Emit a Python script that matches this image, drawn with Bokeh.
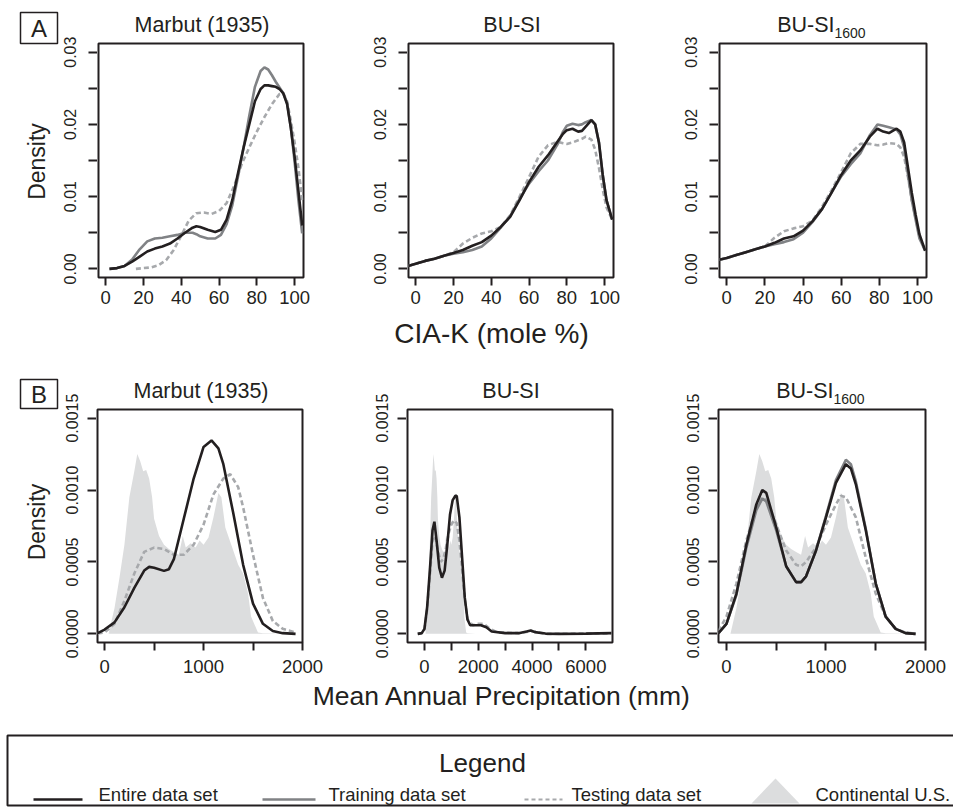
import math
from bokeh.plotting import figure
from bokeh.models import Range1d, FixedTicker
from bokeh.layouts import row, column
from bokeh.core.properties import value
from bokeh.embed import file_html
from bokeh.resources import INLINE

INK = "#231f20"
GRAY = "#808285"
LIGHT = "#a7a9ac"
FILL = "#dcddde"
FONT = "Liberation Sans"

# ---------------- texts ----------------
panel_titles = ["Marbut (1935)", "BU-SI", "BU-SI"]
title_subscripts = ["", "", "1600"]
row_tags = ["A", "B"]
y_title = "Density"
x_titles = ["CIA-K (mole %)", "Mean Annual Precipitation (mm)"]
legend_title = "Legend"
series_names = ["Entire data set", "Training data set", "Testing data set", "Continental U.S."]

# ---------------- data: panel A (CIA-K, mole %) ----------------
a1_x = [2, 6, 10, 14, 18, 22, 26, 30, 34, 38, 42, 46, 48, 50, 54, 58, 61, 64, 67, 70, 73, 76, 79, 82, 84, 86, 88, 90, 92, 94, 96, 98, 100, 102, 104]
a1_entire = [0, 0.0001, 0.0004, 0.001, 0.0017, 0.0024, 0.0028, 0.0031, 0.0035, 0.0042, 0.005, 0.0057, 0.0059, 0.0058, 0.0054, 0.0051, 0.0054, 0.0068, 0.0095, 0.0132, 0.0168, 0.02, 0.0232, 0.0249, 0.0254, 0.0254, 0.0253, 0.0252, 0.0249, 0.0243, 0.0228, 0.0195, 0.0155, 0.0108, 0.006]
a1_train = [0, 0.0001, 0.0004, 0.0013, 0.0027, 0.0038, 0.0042, 0.0043, 0.0045, 0.0047, 0.005, 0.005, 0.0048, 0.0045, 0.0042, 0.0042, 0.0047, 0.0062, 0.0088, 0.0127, 0.0168, 0.0212, 0.0252, 0.0274, 0.0279, 0.0276, 0.0268, 0.0259, 0.0251, 0.0243, 0.023, 0.0196, 0.0148, 0.0095, 0.0049]
a1_test_x = [16, 20, 24, 28, 32, 36, 40, 44, 48, 52, 56, 60, 64, 68, 72, 76, 80, 84, 88, 92, 94, 96, 98, 100, 102, 104]
a1_test = [0, 0.0001, 0.0002, 0.0005, 0.0012, 0.0026, 0.0046, 0.0067, 0.0077, 0.0078, 0.0076, 0.008, 0.0091, 0.0115, 0.0145, 0.0168, 0.019, 0.021, 0.0228, 0.0242, 0.0243, 0.0232, 0.0205, 0.0175, 0.014, 0.0095]

a2_x = [-4, 0, 5, 10, 15, 20, 25, 30, 35, 40, 45, 50, 55, 60, 65, 70, 75, 78, 80, 83, 86, 88, 90, 93, 95, 97, 99, 101, 104]
a2_entire = [0.0004, 0.0007, 0.0011, 0.0014, 0.0018, 0.0022, 0.0026, 0.0032, 0.0037, 0.0046, 0.0058, 0.0072, 0.0095, 0.012, 0.0141, 0.0157, 0.0176, 0.0187, 0.0192, 0.0194, 0.019, 0.0191, 0.0197, 0.0206, 0.02, 0.0175, 0.013, 0.0095, 0.0068]
a2_train = [0.0004, 0.0007, 0.0011, 0.0014, 0.0018, 0.0021, 0.0023, 0.0026, 0.0031, 0.0042, 0.0057, 0.0073, 0.0097, 0.0118, 0.0135, 0.015, 0.0172, 0.019, 0.0198, 0.0201, 0.0199, 0.02, 0.0203, 0.0206, 0.02, 0.0175, 0.013, 0.0095, 0.0068]
a2_test = [0.0004, 0.0007, 0.0011, 0.0014, 0.0018, 0.0023, 0.0035, 0.0043, 0.0049, 0.0052, 0.0058, 0.0074, 0.01, 0.0127, 0.0155, 0.0171, 0.0176, 0.0174, 0.0173, 0.0175, 0.0178, 0.018, 0.0183, 0.0179, 0.0165, 0.014, 0.011, 0.0085, 0.0068]

a3_x = [-4, 0, 5, 10, 15, 20, 25, 30, 35, 40, 45, 50, 55, 60, 65, 70, 75, 79, 82, 85, 89, 91, 93, 95, 97, 99, 101, 104]
a3_entire = [0.00125, 0.0015, 0.0019, 0.0023, 0.0027, 0.0031, 0.0036, 0.0042, 0.0045, 0.0053, 0.0066, 0.0083, 0.0106, 0.013, 0.015, 0.0164, 0.0183, 0.0194, 0.019, 0.0188, 0.0194, 0.019, 0.0175, 0.014, 0.0105, 0.0075, 0.0048, 0.0025]
a3_train = [0.00125, 0.0015, 0.0019, 0.0023, 0.0027, 0.0031, 0.0034, 0.0037, 0.0041, 0.005, 0.0065, 0.0083, 0.0106, 0.0128, 0.0145, 0.016, 0.0185, 0.02, 0.0198, 0.0196, 0.0193, 0.0186, 0.0168, 0.013, 0.0095, 0.0068, 0.0042, 0.0025]
a3_test = [0.00125, 0.0015, 0.0019, 0.0023, 0.0027, 0.0031, 0.0043, 0.0052, 0.0056, 0.0059, 0.0067, 0.0086, 0.0109, 0.0134, 0.016, 0.0173, 0.0173, 0.0171, 0.0172, 0.0174, 0.0173, 0.0168, 0.0155, 0.0127, 0.0095, 0.007, 0.0045, 0.0025]

# ---------------- data: panel B (mean annual precipitation, mm) ----------------
b1_x = [-70, 0, 100, 200, 300, 400, 450, 500, 600, 650, 700, 800, 900, 1000, 1080, 1150, 1200, 1300, 1400, 1500, 1600, 1700, 1800, 1930]
b1_entire = [0.000005, 0.00003, 0.00008, 0.000185, 0.00032, 0.00044, 0.000466, 0.00046, 0.000438, 0.00045, 0.00052, 0.0008, 0.00108, 0.0013, 0.001345, 0.00129, 0.00118, 0.00084, 0.00048, 0.00021, 0.00007, 0.00002, 0.000005, 0]
b1_test_x = [-70, 0, 100, 200, 300, 400, 500, 600, 700, 800, 900, 1000, 1100, 1200, 1270, 1350, 1400, 1500, 1600, 1700, 1800, 1930]
b1_test = [0.000003, 0.00001, 0.00007, 0.00023, 0.00042, 0.00057, 0.0006, 0.00059, 0.00055, 0.00055, 0.00062, 0.00076, 0.00097, 0.00108, 0.00111, 0.00102, 0.00088, 0.00055, 0.00025, 0.00009, 0.000035, 0.00001]

b2_x = [-250, -100, 0, 100, 200, 300, 370, 450, 550, 650, 750, 850, 950, 1050, 1150, 1200, 1300, 1400, 1500, 1600, 1700, 1900, 2100, 2300, 2500, 3000, 3500, 3800, 3950, 4100, 4500, 5000, 6000, 6950]
b2_entire = [0, 0.000005, 0.000035, 0.000185, 0.00044, 0.00072, 0.00078, 0.00065, 0.00046, 0.00039, 0.00044, 0.00062, 0.00083, 0.00093, 0.00096, 0.00096, 0.00081, 0.00053, 0.00025, 0.0001, 0.00006, 0.00006, 0.00006, 0.000046, 0.000016, 0.000005, 0.000005, 0.000016, 0.000023, 0.000012, 0.000002, 0, 0.000002, 0.000005]
b2_test_x = [-250, -100, 0, 100, 200, 300, 400, 500, 600, 700, 800, 900, 1000, 1100, 1200, 1300, 1400, 1500, 1600, 1800, 2000, 2200, 2400, 2700, 3500, 4000, 4500, 6950]
b2_test = [0, 0.000005, 0.00003, 0.00017, 0.0004, 0.00065, 0.00068, 0.00058, 0.0005, 0.00052, 0.0006, 0.0007, 0.00076, 0.00079, 0.00077, 0.00065, 0.00045, 0.00024, 0.0001, 0.00006, 0.00007, 0.00007, 0.00004, 0.00001, 0.000005, 0.00002, 0, 0.000003]

b3_x = [-80, 0, 100, 200, 300, 360, 400, 500, 600, 700, 750, 800, 900, 1000, 1100, 1200, 1250, 1300, 1400, 1500, 1600, 1700, 1800, 1900]
b3_entire = [0.000005, 0.00007, 0.00028, 0.00062, 0.0009, 0.001, 0.00098, 0.00074, 0.00047, 0.00036, 0.00036, 0.0004, 0.00058, 0.00081, 0.00105, 0.00118, 0.00115, 0.00104, 0.00072, 0.00035, 0.00012, 0.000035, 0.000005, 0]
b3_train = [0.000005, 0.00007, 0.00027, 0.0006, 0.00086, 0.00094, 0.00092, 0.00072, 0.00047, 0.00036, 0.00036, 0.0004, 0.00058, 0.00082, 0.00107, 0.00121, 0.00118, 0.00106, 0.00073, 0.00035, 0.00012, 0.000035, 0.000005, 0]
b3_test_x = [-80, 0, 100, 200, 300, 360, 400, 500, 600, 700, 750, 800, 900, 1000, 1100, 1150, 1200, 1300, 1400, 1500, 1600, 1700, 1800, 1900]
b3_test = [0.00002, 0.00012, 0.00035, 0.00065, 0.00088, 0.00095, 0.00093, 0.00076, 0.00058, 0.00048, 0.00047, 0.0005, 0.0006, 0.00076, 0.0009, 0.00096, 0.00095, 0.00081, 0.00053, 0.00028, 0.00012, 0.000035, 0.00001, 0]

conus_x = [40, 100, 150, 200, 250, 300, 330, 360, 390, 420, 450, 480, 500, 550, 600, 650, 700, 750, 790, 820, 870, 920, 960, 1000, 1050, 1100, 1150, 1180, 1220, 1280, 1350, 1400, 1450, 1480, 1550, 1600, 1900]
conus_y = [0, 0.00018, 0.00039, 0.00062, 0.00095, 0.00113, 0.00125, 0.0012, 0.00113, 0.00114, 0.00108, 0.00095, 0.0008, 0.00068, 0.00062, 0.00059, 0.00057, 0.00055, 0.00068, 0.0006, 0.00063, 0.0006, 0.00065, 0.00062, 0.00067, 0.00081, 0.00098, 0.00095, 0.00074, 0.00062, 0.00048, 0.00042, 0.00028, 0.00012, 0.00001, 0.000005, 0]

# ---------------- axes ----------------
cia_ticks = [0, 20, 40, 60, 80, 100]
cia_labels = ["0", "20", "40", "60", "80", "100"]
a_yticks = [0.0, 0.005, 0.01, 0.015, 0.02, 0.025, 0.03]
a_ylabels = ["0.00", " ", "0.01", " ", "0.02", " ", "0.03"]
b_yticks = [0.0, 0.0005, 0.001, 0.0015]
b_ylabels = ["0.0000", "0.0005", "0.0010", "0.0015"]
map_ticks = [0, 500, 1000, 1500, 2000]
map_labels = ["0", " ", "1000", " ", "2000"]
map_wide_ticks = [0, 1000, 2000, 3000, 4000, 5000, 6000]
map_wide_labels = ["0", " ", "2000", " ", "4000", " ", "6000"]

A_XR = [(-3.8, 104.7)] * 3
A_YR = (-0.0012, 0.0312)
B_XR = [(-72, 2000), (-630, 6990), (-80, 2000)]
B_YR = (-0.00006, 0.00156)

# ---------------- layout geometry (pixels) ----------------
LEFT_W = 59
YAX_W = [37, 66, 67]
FRAME_W = [205, 205, 207]
RIGHT_B = [38, 38, 28]
TOTAL_W = 953


def base(w, h, xr=None, yr=None, **kw):
    f = figure(frame_width=w, frame_height=h,
               x_range=Range1d(*(xr or (0, w))), y_range=Range1d(*(yr or (h, 0))),
               output_backend="svg", toolbar_location=None, tools="", **kw)
    f.xgrid.visible = False
    f.ygrid.visible = False
    f.outline_line_color = None
    return f


def strip(w, h):
    return base(w, h, min_border=0, x_axis_location=None, y_axis_location=None)


def txt(f, x, y, s, size, align="center", angle=0.0):
    # y is the vertical middle of the capitals
    f.text(x=[x], y=[y], text=[s], text_align=align, text_baseline="middle", angle=angle,
           text_font=value(FONT), text_font_size=size, text_color=INK)


def style_axis(ax, ticks, labels, size, standoff):
    ax.ticker = FixedTicker(ticks=ticks, minor_ticks=[])
    ax.major_label_overrides = dict(zip(ticks, labels))
    ax.axis_line_color = None
    ax.major_tick_line_color = INK
    ax.major_tick_line_width = 2
    ax.major_tick_out = 8
    ax.major_tick_in = 0
    ax.minor_tick_line_color = None
    ax.major_label_text_color = INK
    ax.major_label_text_font = FONT
    ax.major_label_text_font_size = size
    ax.major_label_standoff = standoff


def yaxis_fig(i, yr, ticks, labels, mbt, fh, mbb):
    f = base(1, fh, xr=(0, 1), yr=yr, min_border_left=YAX_W[i] - 1, min_border_right=0,
             min_border_top=mbt, min_border_bottom=mbb, x_axis_location=None)
    ax = f.yaxis[0]
    style_axis(ax, ticks, labels, "16px", 9)
    ax.major_tick_in = 1
    ax.major_label_orientation = "vertical"
    return f


def main_fig(i, xr, yr, xticks, xlabels, mbt, fh, mbb):
    f = base(FRAME_W[i], fh, xr=xr, yr=yr, min_border_left=1, min_border_right=RIGHT_B[i],
             min_border_top=mbt, min_border_bottom=mbb, y_axis_location=None)
    f.outline_line_color = INK
    f.outline_line_width = 2
    style_axis(f.xaxis[0], xticks, xlabels, "18.5px", 5)
    return f


def title_strip(i, h, mid, sub_mid):
    w = 1 + FRAME_W[i] + RIGHT_B[i]
    s = strip(w, h)
    cx = 1 + FRAME_W[i] / 2
    if title_subscripts[i]:
        split = cx + 10.5
        txt(s, split, mid, panel_titles[i], "21.5px", align="right")
        txt(s, split, sub_mid, title_subscripts[i], "14px", align="left")
    else:
        txt(s, cx, mid, panel_titles[i], "21.5px")
    return s


def left_strip(h, tag, box_top, box_bottom, dens_y):
    s = strip(LEFT_W, h)
    s.quad(left=[20], right=[57], top=[box_top], bottom=[box_bottom], fill_color=None,
           line_color=INK, line_width=1.5)
    txt(s, 38.5, (box_top + box_bottom) / 2 + 0.5, tag, "24px")
    txt(s, 36.5, dens_y, y_title, "23px", angle=math.pi / 2)
    return s


def draw(p, x, y, kind):
    if kind == "entire":
        p.line(x, y, line_color=INK, line_width=2.6)
    elif kind == "train":
        p.line(x, y, line_color=GRAY, line_width=2.6)
    else:
        p.line(x, y, line_color=LIGHT, line_width=2.6, line_dash="5 3")


# ---- row A: height 317, frame top 43, frame height 234
RA_H, RA_TOP, RA_FH = 317, 43, 234
ra_title_h = 41
ra_cols = []
for i in range(3):
    y_f = yaxis_fig(i, A_YR, a_yticks, a_ylabels, RA_TOP, RA_FH, RA_H - RA_TOP - RA_FH)
    m = main_fig(i, A_XR[i], A_YR, cia_ticks, cia_labels, RA_TOP - ra_title_h, RA_FH, RA_H - RA_TOP - RA_FH)
    t = title_strip(i, ra_title_h, 24.8, 32.3)
    ra_cols.append((y_f, t, m))

draw(ra_cols[0][2], a1_test_x, a1_test, "test"); draw(ra_cols[0][2], a1_x, a1_train, "train"); draw(ra_cols[0][2], a1_x, a1_entire, "entire")
draw(ra_cols[1][2], a2_x, a2_test, "test"); draw(ra_cols[1][2], a2_x, a2_train, "train"); draw(ra_cols[1][2], a2_x, a2_entire, "entire")
draw(ra_cols[2][2], a3_x, a3_test, "test"); draw(ra_cols[2][2], a3_x, a3_train, "train"); draw(ra_cols[2][2], a3_x, a3_entire, "entire")

leftA = left_strip(RA_H, row_tags[0], 12, 43, 161)
rowA = row(leftA, *[row(c[0], column(c[1], c[2])) for c in ra_cols])

# ---- x-axis title A
ciaS = strip(TOTAL_W, 35)
txt(ciaS, 491, 16, x_titles[0], "28px")

# ---- row B: page y 352..682, frame top 409 (57 in row), frame height 233
RB_H, RB_TOP, RB_FH = 330, 57, 233
rb_title_h = 55
rb_cols = []
b_xticks = [map_ticks, map_wide_ticks, map_ticks]
b_xlabels = [map_labels, map_wide_labels, map_labels]
for i in range(3):
    y_f = yaxis_fig(i, B_YR, b_yticks, b_ylabels, RB_TOP, RB_FH, RB_H - RB_TOP - RB_FH)
    m = main_fig(i, B_XR[i], B_YR, b_xticks[i], b_xlabels[i], RB_TOP - rb_title_h, RB_FH, RB_H - RB_TOP - RB_FH)
    t = title_strip(i, rb_title_h, 38.7, 46.3)
    m.varea(x=conus_x, y1=[0] * len(conus_x), y2=conus_y, fill_color=FILL)
    rb_cols.append((y_f, t, m))

draw(rb_cols[0][2], b1_test_x, b1_test, "test"); draw(rb_cols[0][2], b1_x, b1_entire, "entire")
draw(rb_cols[1][2], b2_test_x, b2_test, "test"); draw(rb_cols[1][2], b2_x, b2_entire, "entire")
draw(rb_cols[2][2], b3_test_x, b3_test, "test"); draw(rb_cols[2][2], b3_x, b3_train, "train"); draw(rb_cols[2][2], b3_x, b3_entire, "entire")

leftB = left_strip(RB_H, row_tags[1], 27, 56, 169.5)
rowB = row(leftB, *[row(c[0], column(c[1], c[2])) for c in rb_cols])

# ---- x-axis title B
mapS = strip(TOTAL_W, 38)
txt(mapS, 501.5, 13, x_titles[1], "26.5px")

# ---- legend (page y 720..807)
lg = strip(TOTAL_W, 87)
lg.line([TOTAL_W + 5, 7, 7, TOTAL_W + 5], [15, 15, 85, 85], line_color=INK, line_width=2)
txt(lg, 482, 42, legend_title, "26px")
ky, ty = 79, 73.5
lg.line([33, 82], [ky, ky], line_color=INK, line_width=2.6)
lg.line([262, 315], [ky, ky], line_color=GRAY, line_width=2.6)
lg.line([524, 562], [ky, ky], line_color=LIGHT, line_width=2.2, line_dash="4 3")
lg.patch([751, 775, 799], [83, 58, 83], fill_color=FILL, line_color=None)
for xpos, name in zip([98, 328, 571, 815], series_names):
    txt(lg, xpos, ty, name, "18.5px", align="left")

layout = column(rowA, ciaS, rowB, mapS, lg)

open("out.html", "w").write(file_html(layout, INLINE))
